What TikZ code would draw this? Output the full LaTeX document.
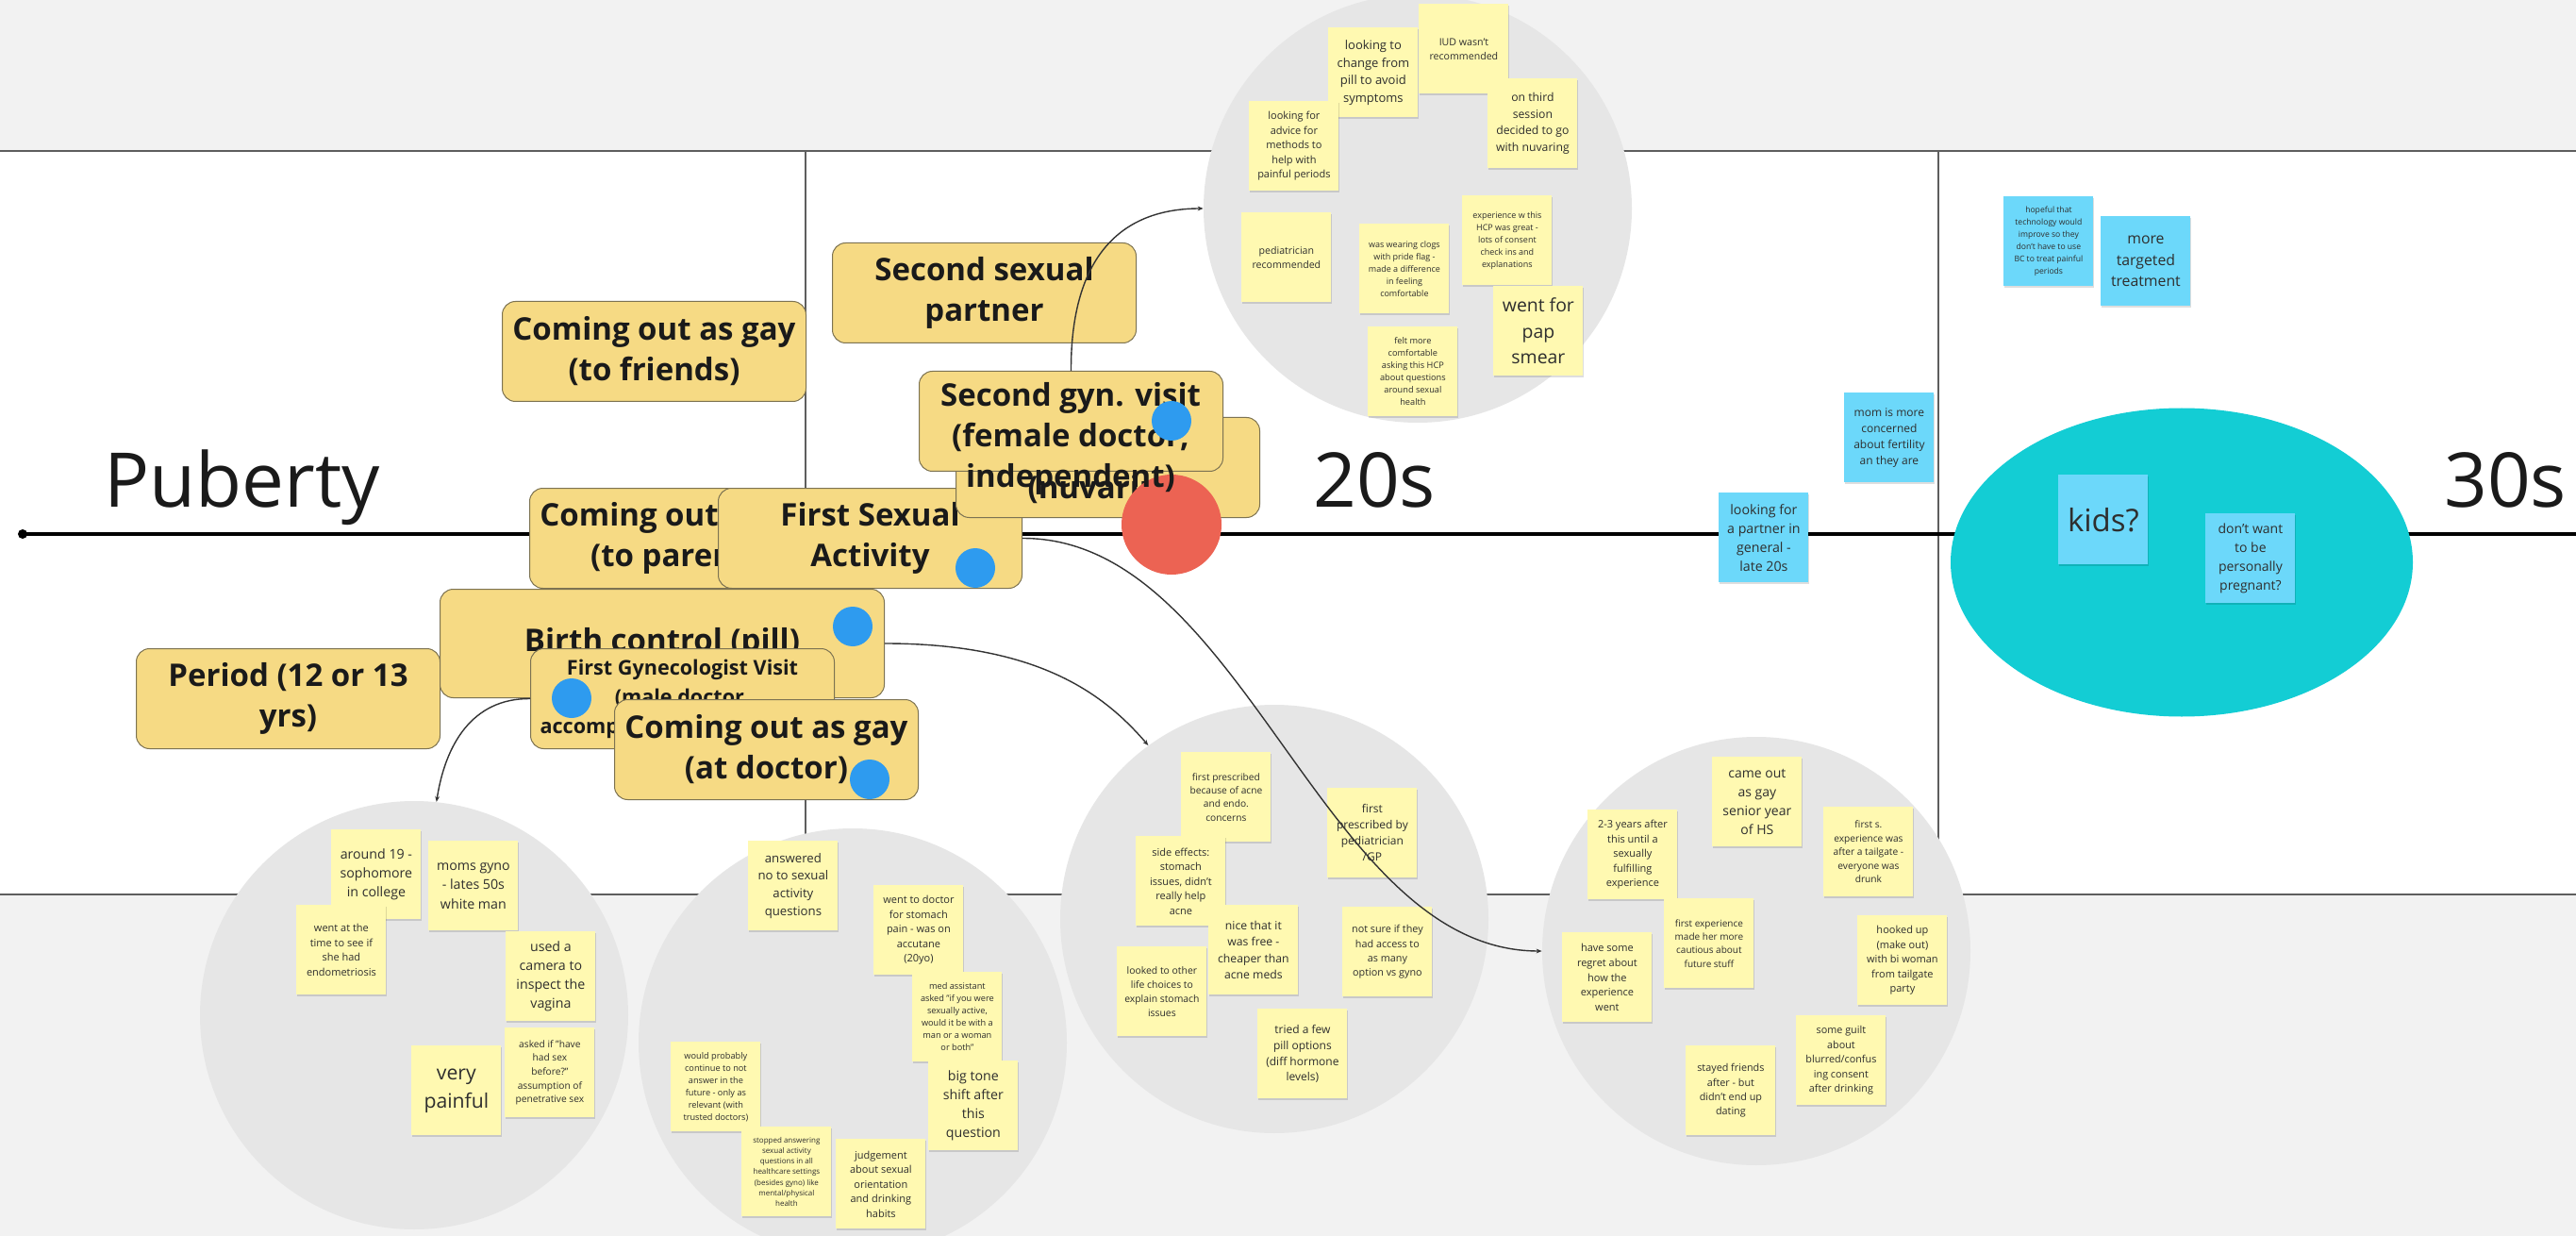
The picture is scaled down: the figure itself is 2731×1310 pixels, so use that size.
\documentclass[tikz,border=0pt]{standalone}
\usepackage{fontspec}
\setmainfont{Open Sans}
\usetikzlibrary{shadows,shapes.geometric,arrows.meta}
\definecolor{yfill}{HTML}{F6DA84}
\definecolor{ybord}{HTML}{7D7352}
\definecolor{stY}{HTML}{FFF9B1}
\definecolor{stB}{HTML}{6CD8FA}
\definecolor{bandgray}{HTML}{F2F2F2}
\definecolor{circgray}{HTML}{E6E6E6}
\definecolor{kidsteal}{HTML}{13CDD4}
\definecolor{redc}{HTML}{EC6353}
\definecolor{bdot}{HTML}{2E9BEF}
\definecolor{ink}{HTML}{1A1A1A}
\definecolor{stink}{HTML}{2E2E2E}
\definecolor{lineg}{HTML}{5E5E5E}
\definecolor{conng}{HTML}{333333}
\newcommand{\sfs}[2]{\fontsize{#1pt}{#2pt}\selectfont}
\tikzset{
  ys/.style={fill=stY, anchor=north west, minimum width=47.5pt, minimum height=47.5pt,
    inner sep=0pt, align=center, text=stink,
    general shadow={fill=black, opacity=0.13, shadow xshift=0.5pt, shadow yshift=-0.8pt}},
  bs/.style={ys, fill=stB},
  yb/.style={draw=ybord, line width=0.5pt, fill=yfill, rounded corners=7pt,
    minimum width=161pt, minimum height=53pt, inner sep=0pt, align=center,
    font=\bfseries\sfs{16.5}{21.5}, text=ink, anchor=north west},
  grayc/.style={circle, fill=circgray, minimum size=227pt, inner sep=0pt},
  bdotst/.style={circle, fill=bdot, minimum size=21pt, inner sep=0pt},
  bigl/.style={font=\sfs{40}{48}, text=ink, inner sep=0pt, anchor=base west},
  conn/.style={draw=conng, line width=0.7pt, -{Stealth[length=3pt,width=2.4pt]}},
  sep/.style={draw=lineg, line width=0.7pt}
}
\begin{document}
\begin{tikzpicture}[x=0.5pt,y=-0.5pt]
\useasboundingbox (0,0) rectangle (2731,1310);
\clip (0,0) rectangle (2731,1310);
% bands
\fill[white] (0,0) rectangle (2731,1310);
\fill[bandgray] (0,0) rectangle (2731,160);
\fill[bandgray] (0,948) rectangle (2731,1310);
\coordinate (bl1) at (0,160); \coordinate (br1) at (2731,160);
\coordinate (bl2) at (0,948); \coordinate (br2) at (2731,948);
\draw[sep] (bl1) -- (br1);
\draw[sep] (bl2) -- (br2);
\coordinate (v1t) at (854,160); \coordinate (v1b) at (854,948);
\coordinate (v2t) at (2055,160); \coordinate (v2b) at (2055,948);
\draw[sep] (v1t) -- (v1b);
\draw[sep] (v2t) -- (v2b);
% timeline
\node[circle, fill=black, minimum size=5pt, inner sep=0pt] (tstart) at (24,566) {};
\coordinate (tend) at (2731,566);
\draw[line width=2.2pt] (tstart.center) -- (tend);
% labels
\node[bigl] (lpub) at (110,538) {Puberty};
\node[bigl] (l20) at (1392,538) {20s};
\node[bigl] (l30) at (2591,538) {30s};
% circles
\node[grayc] (c1) at (1503,221) {};
\node[grayc] (c2) at (439,1076) {};
\node[grayc] (c3) at (904,1105) {};
\node[grayc] (c4) at (1351,974) {};
\node[grayc] (c5) at (1862,1008) {};
\node[ellipse, fill=kidsteal, minimum width=245pt, minimum height=163.5pt, inner sep=0pt] (kidsell) at (2313,596) {};
% stickies circle 1
\node[ys, font=\sfs{6.5}{9.25}] (s1a) at (1408,29) {looking to\\change from\\pill to avoid\\symptoms};
\node[ys, font=\sfs{5.3}{7.5}] (s1b) at (1504,4) {IUD wasn't\\recommended};
\node[ys, font=\sfs{6.1}{8.7}] (s1c) at (1577,83) {on third\\session\\decided to go\\with nuvaring};
\node[ys, font=\sfs{5.5}{7.8}] (s1d) at (1324,107) {looking for\\advice for\\methods to\\help with\\painful periods};
\node[ys, font=\sfs{5.3}{7.5}] (s1e) at (1316,225) {pediatrician\\recommended};
\node[ys, font=\sfs{4.5}{6.45}] (s1f) at (1441,237) {was wearing clogs\\with pride flag -\\made a difference\\in feeling\\comfortable};
\node[ys, font=\sfs{4.5}{6.45}] (s1g) at (1550,207) {experience w this\\HCP was great -\\lots of consent\\check ins and\\explanations};
\node[ys, font=\sfs{9.7}{13.75}] (s1h) at (1583,303) {went for\\pap\\smear};
\node[ys, font=\sfs{4.6}{6.5}] (s1i) at (1450,346) {felt more\\comfortable\\asking this HCP\\about questions\\around sexual\\health};
% stickies circle 2
\node[ys, font=\sfs{7.1}{10.15}] (s2a) at (351,879) {around 19 -\\sophomore\\in college};
\node[ys, font=\sfs{5.5}{7.8}] (s2b) at (314,959) {went at the\\time to see if\\she had\\endometriosis};
\node[ys, font=\sfs{7.1}{10.15}] (s2c) at (454,891) {moms gyno\\- lates 50s\\white man};
\node[ys, font=\sfs{7.1}{10.05}] (s2d) at (536,987) {used a\\camera to\\inspect the\\vagina};
\node[ys, font=\sfs{10.6}{15}] (s2e) at (436,1108) {very\\painful};
\node[ys, font=\sfs{5.1}{7.3}] (s2f) at (535,1089) {asked if "have\\had sex\\before?"\\assumption of\\penetrative sex};
% stickies circle 3
\node[ys, font=\sfs{6.6}{9.35}] (s3a) at (793,891) {answered\\no to sexual\\activity\\questions};
\node[ys, font=\sfs{5.5}{7.75}] (s3b) at (926,938) {went to doctor\\for stomach\\pain - was on\\accutane\\(20yo)};
\node[ys, font=\sfs{4.6}{6.5}] (s3c) at (967,1030) {med assistant\\asked "if you were\\sexually active,\\would it be with a\\man or a woman\\or both"};
\node[ys, font=\sfs{7.1}{10.1}] (s3d) at (984,1124) {big tone\\shift after\\this\\question};
\node[ys, font=\sfs{4.6}{6.5}] (s3e) at (711,1104) {would probably\\continue to not\\answer in the\\future - only as\\relevant (with\\trusted doctors)};
\node[ys, font=\sfs{4.0}{5.65}] (s3f) at (786,1194) {stopped answering\\sexual activity\\questions in all\\healthcare settings\\(besides gyno) like\\mental/physical\\health};
\node[ys, font=\sfs{5.5}{7.75}] (s3g) at (886,1207) {judgement\\about sexual\\orientation\\and drinking\\habits};
% stickies circle 4
\node[ys, font=\sfs{5.1}{7.2}] (s4a) at (1252,797) {first prescribed\\because of acne\\and endo.\\concerns};
\node[ys, font=\sfs{5.5}{7.75}] (s4b) at (1204,886) {side effects:\\stomach\\issues, didn't\\really help\\acne};
\node[ys, font=\sfs{6.0}{8.5}] (s4c) at (1407,835) {first\\prescribed by\\pediatrician\\/GP};
\node[ys, font=\sfs{6.1}{8.7}] (s4d) at (1281,959) {nice that it\\was free -\\cheaper than\\acne meds};
\node[ys, font=\sfs{5.4}{7.65}] (s4e) at (1423,961) {not sure if they\\had access to\\as many\\option vs gyno};
\node[ys, font=\sfs{5.2}{7.4}] (s4f) at (1184,1003) {looked to other\\life choices to\\explain stomach\\issues};
\node[ys, font=\sfs{6.0}{8.45}] (s4g) at (1333,1069) {tried a few\\pill options\\(diff hormone\\levels)};
% stickies circle 5
\node[ys, font=\sfs{7.0}{10}] (s5a) at (1815,802) {came out\\as gay\\senior year\\of HS};
\node[ys, font=\sfs{5.5}{7.75}] (s5b) at (1683,858) {2-3 years after\\this until a\\sexually\\fulfilling\\experience};
\node[ys, font=\sfs{5.1}{7.2}] (s5c) at (1933,855) {first s.\\experience was\\after a tailgate -\\everyone was\\drunk};
\node[ys, font=\sfs{5.0}{7.15}] (s5d) at (1764,952) {first experience\\made her more\\cautious about\\future stuff};
\node[ys, font=\sfs{5.5}{7.8}] (s5e) at (1656,988) {have some\\regret about\\how the\\experience\\went};
\node[ys, font=\sfs{5.5}{7.8}] (s5f) at (1969,970) {hooked up\\(make out)\\with bi woman\\from tailgate\\party};
\node[ys, font=\sfs{5.4}{7.7}] (s5g) at (1904,1076) {some guilt\\about\\blurred/confus\\ing consent\\after drinking};
\node[ys, font=\sfs{5.4}{7.7}] (s5h) at (1787,1108) {stayed friends\\after - but\\didn't end up\\dating};
% blue stickies
\node[bs, font=\sfs{4.3}{6.5}] (b1) at (2124,208) {hopeful that\\technology would\\improve so they\\don't have to use\\BC to treat painful\\periods};
\node[bs, font=\sfs{7.9}{11.25}] (b2) at (2227,229) {more\\targeted\\treatment};
\node[bs, font=\sfs{6.0}{8.55}] (b3) at (1955,416) {mom is more\\concerned\\about fertility\\an they are};
\node[bs, font=\sfs{7.1}{10.05}] (b4) at (1822,522) {looking for\\a partner in\\general -\\late 20s};
\node[bs, font=\sfs{16.5}{20}] (b5) at (2182,503) {kids?};
\node[bs, font=\sfs{7.0}{10}] (b6) at (2338,544) {don't want\\to be\\personally\\pregnant?};
% yellow event boxes
\node[yb] (yfr) at (532,319) {Coming out as gay\\(to friends)};
\node[yb] (ysp) at (882,257) {Second sexual\\partner};
\node[yb] (ypar) at (561,517) {Coming out as gay\\(to parents)};
\node[yb] (yfsa) at (761,517) {First Sexual\\Activity};
\node[yb] (yper) at (144,687) {Period (12 or 13\\yrs)};
\node[yb, minimum width=235.5pt, minimum height=57.5pt] (ybc) at (466,624) {Birth control (pill)};
\node[yb, font=\bfseries\sfs{10.8}{15.5}] (yfg) at (562,687) {First Gynecologist Visit\\(male doctor,\\accompanied by their mom)};
\node[yb] (ydoc) at (651,741) {Coming out as gay\\(at doctor)};
\node[yb] (ynuv) at (1013,442) {\strut\\(nuvaring)};
\node[circle, fill=redc, minimum size=53pt, inner sep=0pt] (redd) at (1242,556) {};
\node[yb] (ygyn) at (974,393) {};
\node[font=\bfseries\sfs{16.5}{21.5}, text=ink, align=center, inner sep=0pt, anchor=north] (ygynt) at (1135,405) {Second gyn. visit\\(female doctor,\\independent)};
% connectors
\draw[conn] (ygyn.north) .. controls (1135,270) and (1190,221) .. (c1.west);
\draw[conn] (ybc.east) .. controls (1100,682) and (1170,735) .. (c4.126.5);
\draw[conn] (yfsa.east) .. controls (1320,570) and (1400,1008) .. (c5.west);
\draw[conn] (yfg.west) .. controls (500,740) and (472,790) .. (c2.84);
% blue dots
\node[bdotst] (d1) at (1242,446) {};
\node[bdotst] (d2) at (1034,602) {};
\node[bdotst] (d3) at (904,664) {};
\node[bdotst] (d4) at (606,740) {};
\node[bdotst] (d5) at (922,826) {};
\end{tikzpicture}
\end{document}
